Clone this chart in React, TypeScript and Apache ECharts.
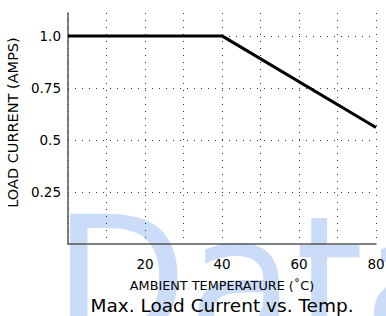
import React, { useEffect, useRef } from "react";
import * as echarts from "echarts";

const temps: number[] = [0, 40, 80];
const currents: number[] = [1.0, 1.0, 0.56];
const xTickLabels: number[] = [20, 40, 60, 80];
const yGridValues: number[] = [0.25, 0.5, 0.75, 1.0];
const yTickLabels: string[] = ["0.25", "0.5", "0.75", "1.0"];

const FONT = "DejaVu Sans";

export default function App() {
  const ref = useRef<HTMLDivElement>(null);
  useEffect(() => {
    if (!ref.current) return;
    const chart = echarts.init(ref.current, null, { renderer: "svg" });
    const dotted = { color: "#333", width: 1, type: [1, 6] as number[] };
    chart.setOption({
      animation: false,
      backgroundColor: "#fff",
      title: {
        text: "Max. Load Current vs. Temp.",
        left: 222,
        top: 295,
        padding: 0,
        textAlign: "center",
        textStyle: { fontFamily: FONT, fontSize: 18.5, fontWeight: "normal", color: "#000", lineHeight: 20 },
      },
      graphic: [
        {
          type: "text",
          z: -10,
          left: 53,
          top: 193,
          silent: true,
          style: { text: "Data", fontFamily: FONT, fontSize: 175, fill: "#cbdcf8" },
        },
      ],
      grid: { left: 68, right: 10, top: 13, bottom: 72, containLabel: false, outerBoundsMode: "none" },
      xAxis: {
        type: "value",
        min: 0,
        max: 80,
        interval: 10,
        name: "AMBIENT TEMPERATURE (˚C)",
        nameLocation: "middle",
        nameGap: 35,
        nameTextStyle: { fontFamily: FONT, fontSize: 12.8, color: "#000" },
        axisLine: { show: true, lineStyle: { color: "#555", width: 1.5 } },
        axisTick: { show: false },
        axisLabel: {
          fontFamily: FONT,
          fontSize: 13.5,
          color: "#000",
          margin: 13,
          showMinLabel: true,
          showMaxLabel: true,
          formatter: (v: number) => (xTickLabels.indexOf(v) >= 0 ? String(v) : ""),
        },
        splitLine: { show: true, lineStyle: dotted },
      },
      yAxis: {
        type: "value",
        min: 0,
        max: 1.11,
        interval: 0.25,
        name: "LOAD CURRENT (AMPS)",
        nameLocation: "middle",
        nameRotate: 90,
        nameGap: 37,
        nameTextStyle: { fontFamily: FONT, fontSize: 14.5, color: "#000", padding: [0, 0, 0, 12] },
        axisLine: { show: true, lineStyle: { color: "#555", width: 1.5 } },
        axisTick: { show: false },
        axisLabel: {
          fontFamily: FONT,
          fontSize: 13.5,
          color: "#000",
          margin: 7,
          formatter: (v: number) => {
            const i = yGridValues.findIndex((g) => Math.abs(g - v) < 1e-6);
            return i >= 0 ? yTickLabels[i] : "";
          },
        },
        splitLine: { show: false },
      },
      series: [
        {
          type: "line",
          data: temps.map((t, i) => [t, currents[i]]),
          symbol: "none",
          lineStyle: { color: "#000", width: 3 },
          z: 5,
          markLine: {
            silent: true,
            symbol: "none",
            label: { show: false },
            lineStyle: dotted,
            data: yGridValues.map((v) => ({ yAxis: v })),
            z: 1,
          },
        },
      ],
    });
    return () => chart.dispose();
  }, []);
  return (
    <div
      ref={ref}
      style={{ position: "fixed", left: 0, top: 0, width: 386, height: 316 }}
    />
  );
}
